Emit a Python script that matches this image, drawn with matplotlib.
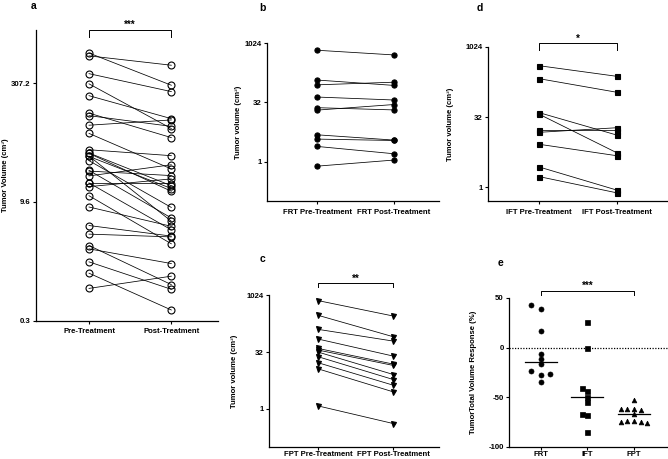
import numpy as np
import matplotlib
matplotlib.use("Agg")
import matplotlib.pyplot as plt
from matplotlib.ticker import FixedLocator, NullLocator, FixedFormatter
import matplotlib.transforms as mtransforms

plt.rcParams['font.family'] = ['Liberation Sans', 'DejaVu Sans']
plt.rcParams['font.weight'] = 'bold'

# ---------------- data ----------------
# FRT (panel b)
frt_pre = [681, 119, 90, 44, 23.6, 20.5, 4.82, 3.75, 2.44, 0.77]
frt_post = [518, 87, 105, 37, 20.7, 28.4, 3.54, 3.46, 1.59, 1.10]
# IFT (panel d)
ift_pre = [405, 213, 39.6, 36.6, 16.5, 15.0, 8.28, 2.69, 1.67]
ift_post = [240, 109, 13.1, 5.46, 16.4, 18.8, 4.71, 0.86, 0.75]
# FPT (panel c)
fpt_pre = [739, 301, 128, 70.9, 40.0, 36.2, 32.0, 24.1, 16.7, 11.5, 1.20]
fpt_post = [289, 81.7, 62.7, 25.1, 15.4, 14.2, 8.17, 6.01, 4.25, 2.83, 0.41]
# panel a: all patients
all_pre = frt_pre + ift_pre + fpt_pre
all_post = frt_post + ift_post + fpt_post

# panel e: response (%)
resp_frt = [38.8, 43.1, 16.9, -6.6, -12.0, -16.8, -27.6, -24.1, -26.9, -35.0]
resp_ift = [26.1, -0.5, -49.9, -55.0, -43.4, -40.8, -68.2, -66.7, -85.4]
resp_fpt = [-52.5, -62.1, -62.1, -63.4, -62.1, -66.8, -74.3, -73.9, -74.9, -75.3, -76.3]
resp_groups = ["FRT", "IFT", "FPT"]

a_ticks = [0.3, 9.6, 307.2]
a_ticklabels = ["0.3", "9.6", "307.2"]
bcd_ticks = [1, 32, 1024]
bcd_ticklabels = ["1", "32", "1024"]
e_ticks = [-100, -50, 0, 50]
e_ticklabels = ["-100", "-50", "0", "50"]

# ---------------- layout ----------------
W, H = 668, 459
fig = plt.figure(figsize=(W / 100, H / 100), dpi=100)

def axes_px(left, top, right, bottom):
    return fig.add_axes([left / W, 1 - bottom / H, (right - left) / W, (bottom - top) / H])

FS = 5.6

def style(ax, xpad):
    for s in ['top', 'right']:
        ax.spines[s].set_visible(False)
    for s in ['left', 'bottom']:
        ax.spines[s].set_linewidth(0.9)
    ax.tick_params(direction='out', length=2.4, width=0.8, labelsize=FS, pad=1.5)
    ax.tick_params(axis='x', pad=xpad)
    for lab in ax.get_xticklabels() + ax.get_yticklabels():
        lab.set_fontweight('bold')

def bracket(ax, x0, x1, ybar, ytick, ystar, txt):
    tr = mtransforms.blended_transform_factory(ax.transData, ax.transAxes)
    ax.plot([x0, x0, x1, x1], [ytick, ybar, ybar, ytick], color='black', lw=0.7,
            transform=tr, clip_on=False)
    ax.text((x0 + x1) / 2, ystar, txt, transform=tr, ha='center', va='baseline',
            fontsize=7, fontweight='bold')

def paired(ax, pre, post, marker, ms, filled, ticks, ticklabels, xlabels, ylim, xlim, ylabel, lx, xpad):
    for p, q in zip(pre, post):
        ax.plot([0, 1], [p, q], color='black', lw=0.55, zorder=2)
    fc = 'black' if filled else 'none'
    ax.plot([0] * len(pre), pre, linestyle='none', marker=marker, ms=ms, mfc=fc,
            mec='black', mew=0.8, zorder=3, clip_on=False)
    ax.plot([1] * len(post), post, linestyle='none', marker=marker, ms=ms, mfc=fc,
            mec='black', mew=0.8, zorder=3, clip_on=False)
    ax.set_yscale('log')
    ax.set_ylim(*ylim)
    ax.set_xlim(*xlim)
    ax.yaxis.set_major_locator(FixedLocator(ticks))
    ax.yaxis.set_major_formatter(FixedFormatter(ticklabels))
    ax.yaxis.set_minor_locator(NullLocator())
    ax.set_xticks([0, 1])
    ax.set_xticklabels(xlabels)
    ax.set_ylabel(ylabel, fontsize=FS, fontweight='bold')
    ax.yaxis.set_label_coords(lx, 0.5)
    style(ax, xpad)

# panel a
ax_a = axes_px(36, 30, 218, 320.7)
paired(ax_a, all_pre, all_post, 'o', 5.0, False, a_ticks, a_ticklabels,
       ["Pre-Treatment", "Post-Treatment"], (0.3, 1448), (-0.644, 1.567),
       "Tumor Volume (cm³)", -0.150, 3.0)
bracket(ax_a, 0, 1, 1.0, 0.977, 1.006, "***")

# panel b
ax_b = axes_px(267.3, 43.3, 439, 201)
paired(ax_b, frt_pre, frt_post, 'o', 3.7, True, bcd_ticks, bcd_ticklabels,
       ["FRT Pre-Treatment", "FRT Post-Treatment"], (0.1, 1024), (-0.652, 1.587),
       "Tumor volume (cm³)", -0.145, 3.0)

# panel d
ax_d = axes_px(488.3, 47, 668, 201)
paired(ax_d, ift_pre, ift_post, 's', 3.6, True, bcd_ticks, bcd_ticklabels,
       ["IFT Pre-Treatment", "IFT Post-Treatment"], (0.5, 1024), (-0.659, 1.663),
       "Tumor volume (cm³)", -0.190, 3.0)
bracket(ax_d, 0, 1, 1.024, 0.980, 1.036, "*")

# panel c
ax_c = axes_px(269.3, 295.3, 439, 446.7)
paired(ax_c, fpt_pre, fpt_post, 'v', 3.6, True, bcd_ticks, bcd_ticklabels,
       ["FPT Pre-Treatment", "FPT Post-Treatment"], (0.1, 1024), (-0.653, 1.609),
       "Tumor volume (cm³)", -0.183, 1.0)
bracket(ax_c, 0, 1, 1.079, 1.053, 1.091, "**")

# panel e
ax_e = axes_px(509, 298, 668, 446.7)

def swarm_cols(vals, thr):
    placed, cols = [], []
    for v in vals:
        chosen = 0
        for c in [0, -1, 1, -2, 2, -3, 3]:
            if all(not (pc == c and abs(pv - v) < thr) for pv, pc in placed):
                chosen = c
                break
        placed.append((v, chosen))
        cols.append(chosen)
    return np.array(cols)

e_sets = [(resp_frt, 'o', 3.6, 0.208), (resp_ift, 's', 3.6, 0.107), (resp_fpt, '^', 3.4, 0.143)]
for i, (vals, mk, ms, step) in enumerate(e_sets):
    cols = swarm_cols(vals, 4.5)
    ax_e.plot(i + cols * step, vals, linestyle='none', marker=mk, ms=ms, mfc='black',
              mec='black', mew=0.5, zorder=3, clip_on=False)
    med = np.median(vals)
    ax_e.plot([i - 0.34, i + 0.34], [med, med], color='black', lw=0.9, zorder=4)
ax_e.axhline(0, color='black', lw=0.9, linestyle=(0, (1, 1.2)), zorder=1)
ax_e.set_ylim(-100, 50)
ax_e.set_xlim(-0.68, 2.73)
ax_e.set_yticks(e_ticks)
ax_e.set_yticklabels(e_ticklabels)
ax_e.set_xticks([0, 1, 2])
ax_e.set_xticklabels(resp_groups)
ax_e.set_ylabel("TumorTotal Volume Response (%)", fontsize=FS, fontweight='bold')
ax_e.yaxis.set_label_coords(-0.20, 0.5)
style(ax_e, 1.0)
bracket(ax_e, 0, 2, 1.049, 1.018, 1.062, "***")

# panel letters
for txt, x, y in [("a", 34, 6), ("b", 262, 8), ("d", 480, 8), ("c", 262, 259), ("e", 500, 263)]:
    fig.text(x / W, 1 - y / H, txt, fontsize=7.5, fontweight='bold', ha='center', va='center')

fig.savefig("out.png", dpi=100)
